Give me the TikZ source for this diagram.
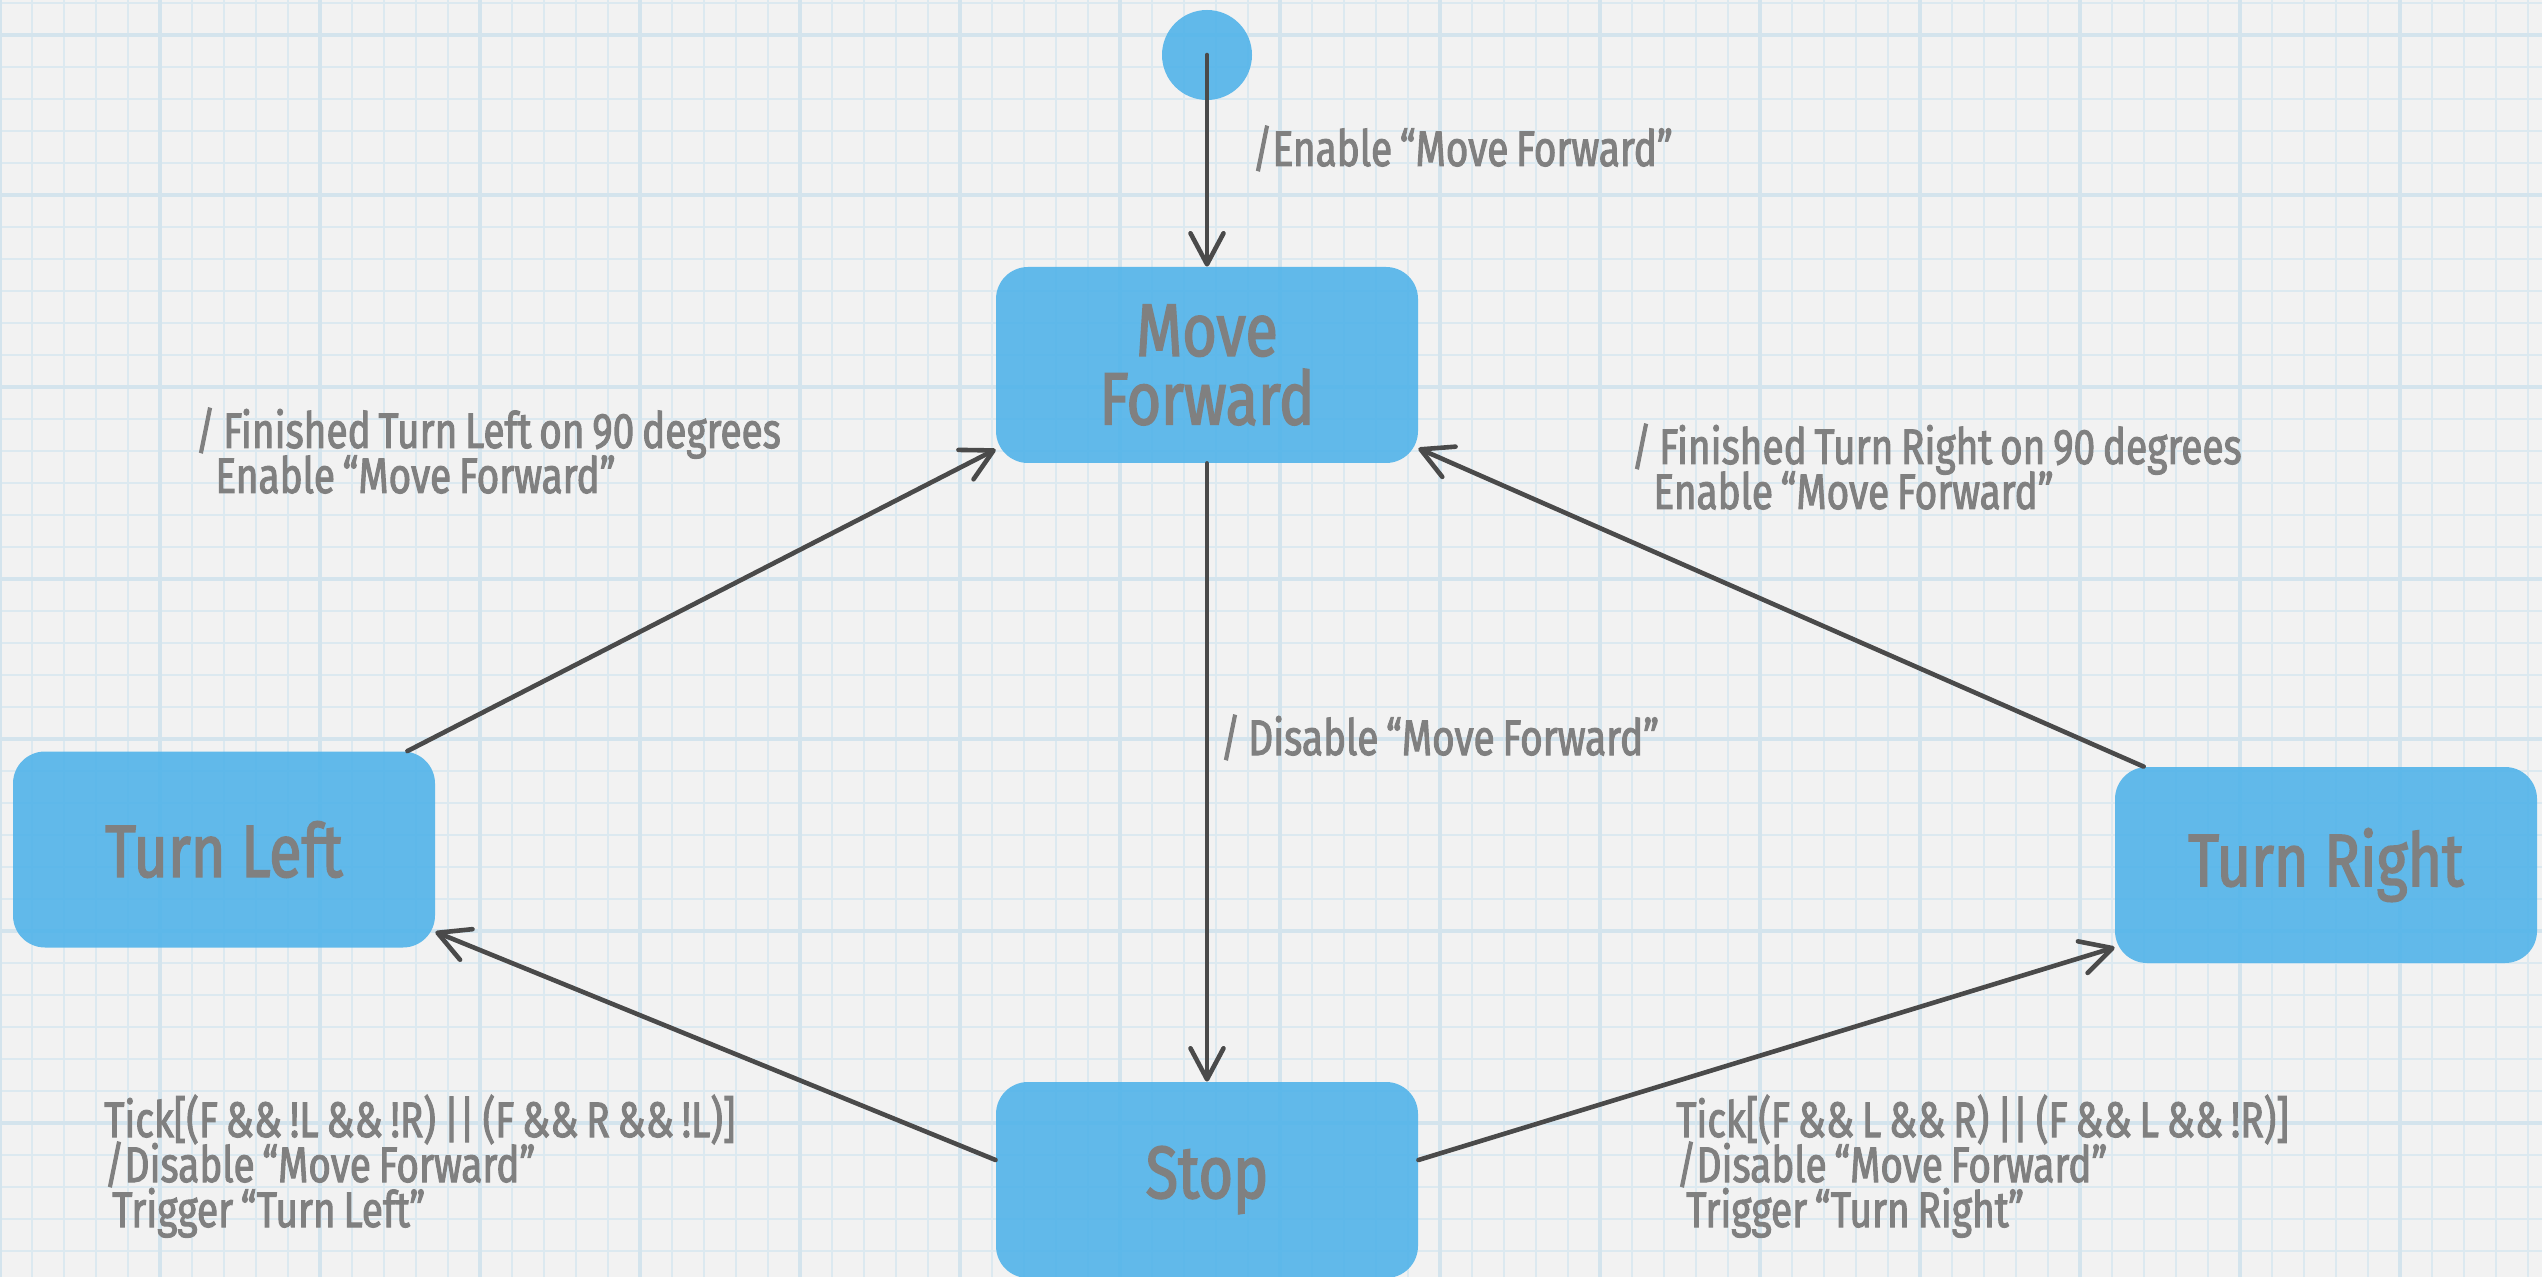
\documentclass[tikz,border=0pt]{standalone}
\usepackage{fontspec}
\usetikzlibrary{arrows.meta}
\newfontfamily\titlefont[FakeStretch=0.8, FakeBold=2.2]{Fira Sans}
\newfontfamily\labelfont[FakeStretch=0.776, FakeBold=2, WordSpace=0.75]{Fira Sans}
% keep baselines evenly spaced, whatever the glyph depths
\newcommand\fixedleading{\lineskiplimit -20pt\relax}

\definecolor{paper}{RGB}{242,242,242}
\definecolor{gridminor}{RGB}{220,233,240}
\definecolor{gridmajor}{RGB}{212,228,237}
\definecolor{statefill}{RGB}{77,178,234}
\definecolor{inkgray}{RGB}{128,128,128}
\definecolor{wire}{RGB}{74,74,74}

\tikzset{
  minorline/.style={draw=gridminor, line width=1pt},
  majorline/.style={draw=gridmajor, line width=2pt},
  statebox/.style={rectangle, rounded corners=16pt, fill=statefill, fill opacity=0.88,
    text opacity=1, minimum width=211pt, minimum height=98pt, inner sep=0pt,
    text=inkgray, font={\titlefont\fontsize{37}{34.3}\selectfont\fixedleading},
    align=center},
  startdot/.style={circle, fill=statefill, fill opacity=0.88, minimum size=45pt, inner sep=0pt},
  conn/.style={draw=wire, line width=2.3pt, line cap=round, line join=round,
    -{Straight Barb[length=15.5pt, width=16.5pt, round]}},
  lbl/.style={text=inkgray, font={\labelfont\fontsize{25}{22.5}\selectfont\fixedleading},
    inner sep=0pt, anchor=base west, align=left}
}

\begin{document}
\begin{tikzpicture}[x=0.5pt, y=-0.5pt]
  % graph paper
  \fill[paper] (0,0) rectangle (2542,1277);
  \useasboundingbox (0,0) rectangle (2542,1277);
  \foreach \k in {0,...,79} \draw[minorline] (\k*32,0) -- (\k*32,1277);
  \foreach \k in {0,...,39} \draw[minorline] (0,3+\k*32) -- (2542,3+\k*32);
  \foreach \k in {0,...,15} \draw[majorline] (\k*160,0) -- (\k*160,1277);
  \foreach \y in {35,195,387,579,739,931,1123} \draw[majorline] (0,\y) -- (2542,\y);

  % states
  \node[startdot] (init) at (1207,55) {};
  \node[statebox] (mf) at (1207,365) {Move\\Forward};
  \node[statebox] (tl) at (224,849.5) {Turn Left};
  \node[statebox] (tr) at (2326,865) {Turn Right};
  \node[statebox] (stop) at (1207,1180) {Stop};

  % transitions
  \draw[conn] (init.center) -- (mf.north);
  \draw[conn] (mf.south) -- (stop.north);
  \draw[conn] ([xshift=-14pt]tl.north east) -- ([yshift=7pt]mf.south west);
  \draw[conn] ([xshift=14.5pt]tr.north west) -- ([yshift=7.5pt]mf.south east);
  \draw[conn] ([yshift=10pt]stop.west) -- ([yshift=8pt]tl.south east);
  \draw[conn] ([yshift=10pt]stop.east) -- ([yshift=8pt]tr.south west);

  % transition labels (anchored at the baseline of their last line)
  \node[lbl] (l1) at (1252,166) {/Enable “Move Forward”};
  \node[lbl] (l2) at (195,493) {/ Finished Turn Left on 90 degrees\\\hspace*{10pt}Enable “Move Forward”};
  \node[lbl] (l3) at (1631,509) {/ Finished Turn Right on 90 degrees\\\hspace*{11pt}Enable “Move Forward”};
  \node[lbl] (l4) at (1220,755) {/ Disable “Move Forward”};
  \node[lbl] (l5) at (104,1227) {Tick[(F \&\& !L \&\& !R) || (F \&\& R \&\& !L)]\\/Disable “Move Forward”\\\hspace*{4pt}Trigger “Turn Left”};
  \node[lbl] (l6) at (1676,1227) {Tick[(F \&\& L \&\& R) || (F \&\& L \&\& !R)]\\/Disable “Move Forward”\\\hspace*{5pt}Trigger “Turn Right”};
\end{tikzpicture}
\end{document}
